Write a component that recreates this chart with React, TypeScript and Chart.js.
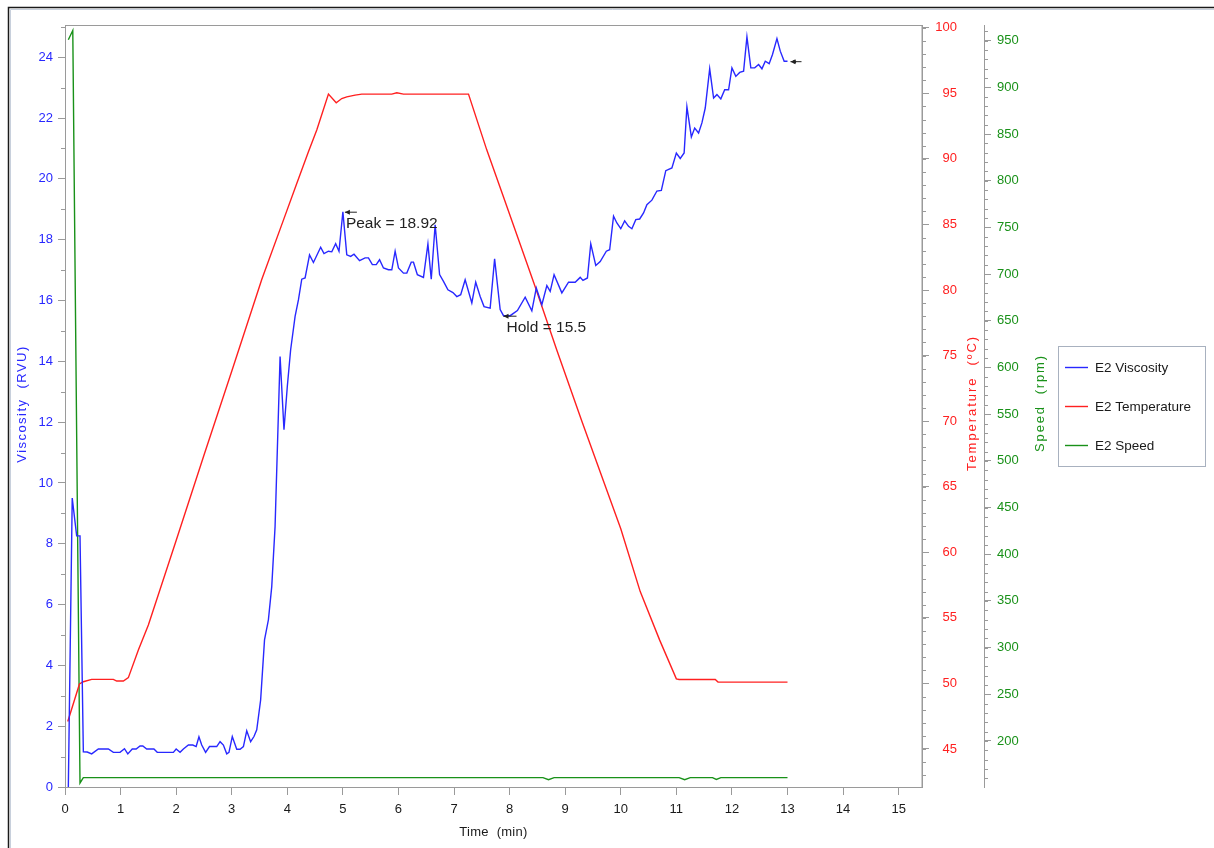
import React, { useEffect, useRef } from 'react';
import { Chart, registerables } from 'chart.js';

Chart.register(...registerables);

// ---------------- data ----------------
const seriesNames = ['E2 Viscosity', 'E2 Temperature', 'E2 Speed'];

const viscTime = [
  0.06, 0.13, 0.21, 0.27, 0.33, 0.40, 0.48, 0.60, 0.78, 0.87, 0.99, 1.07, 1.13, 1.21, 1.28, 1.35, 1.40, 1.47,
  1.60, 1.66, 1.95, 2.00, 2.07, 2.13, 2.22, 2.30, 2.36, 2.41, 2.46, 2.53, 2.60, 2.73, 2.79, 2.85, 2.91, 2.95,
  3.01, 3.09, 3.15, 3.21, 3.27, 3.34, 3.40, 3.45, 3.52, 3.59, 3.66, 3.72, 3.78, 3.87, 3.94, 4.00, 4.06, 4.14,
  4.20, 4.26, 4.32, 4.40, 4.47, 4.60, 4.66, 4.74, 4.80, 4.87, 4.93, 5.00, 5.07, 5.14, 5.20, 5.30, 5.40, 5.46,
  5.53, 5.60, 5.66, 5.73, 5.82, 5.88, 5.94, 6.00, 6.09, 6.15, 6.23, 6.27, 6.34, 6.45, 6.53, 6.59, 6.66, 6.74,
  6.81, 6.89, 6.98, 7.05, 7.12, 7.20, 7.32, 7.39, 7.47, 7.54, 7.65, 7.73, 7.83, 7.89, 8.01, 8.14, 8.28, 8.40,
  8.48, 8.58, 8.67, 8.73, 8.80, 8.94, 9.06, 9.18, 9.27, 9.32, 9.40, 9.46, 9.55, 9.63, 9.74, 9.80, 9.87, 9.93,
  10.00, 10.07, 10.14, 10.20, 10.27, 10.34, 10.41, 10.47, 10.56, 10.65, 10.73, 10.81, 10.92, 11.00, 11.07,
  11.14, 11.19, 11.27, 11.33, 11.40, 11.46, 11.52, 11.60, 11.67, 11.73, 11.80, 11.87, 11.94, 12.00, 12.07,
  12.14, 12.21, 12.27, 12.34, 12.41, 12.48, 12.54, 12.60, 12.67, 12.73, 12.81, 12.87, 12.94, 13.00,
];
const viscValues = [
  0, 9.5, 8.26, 8.26, 1.16, 1.15, 1.09, 1.25, 1.25, 1.14, 1.14, 1.26, 1.09, 1.25, 1.25, 1.35, 1.35, 1.25,
  1.25, 1.14, 1.14, 1.25, 1.14, 1.25, 1.38, 1.38, 1.33, 1.65, 1.38, 1.14, 1.33, 1.33, 1.49, 1.38, 1.09, 1.14,
  1.66, 1.24, 1.24, 1.33, 1.85, 1.49, 1.66, 1.88, 2.86, 4.84, 5.5, 6.59, 8.57, 14.16, 11.75, 13.17, 14.38, 15.48,
  16.02, 16.7, 16.74, 17.5, 17.25, 17.75, 17.54, 17.62, 17.6, 17.87, 17.62, 18.92, 17.5, 17.45, 17.52, 17.31, 17.4, 17.4,
  17.18, 17.18, 17.34, 17.07, 17.01, 17.01, 17.62, 17.07, 16.9, 16.9, 17.26, 17.26, 16.85, 16.76, 17.86, 16.7, 18.49, 16.85,
  16.63, 16.35, 16.26, 16.13, 16.19, 16.68, 15.92, 16.6, 16.13, 15.8, 15.75, 17.37, 15.7, 15.5, 15.5, 15.67, 16.11, 15.66,
  16.41, 15.86, 16.49, 16.3, 16.85, 16.25, 16.6, 16.6, 16.76, 16.66, 16.74, 17.86, 17.15, 17.28, 17.62, 17.67, 18.77, 18.55,
  18.36, 18.62, 18.44, 18.36, 18.66, 18.68, 18.88, 19.15, 19.3, 19.6, 19.62, 20.27, 20.36, 20.85, 20.67,
  20.85, 22.37, 21.38, 21.67, 21.51, 21.84, 22.33, 23.62, 22.66, 22.77, 22.63, 22.93, 22.93, 23.65, 23.37,
  23.5, 23.54, 24.67, 23.65, 23.65, 23.76, 23.62, 23.87, 23.79, 24.09, 24.61, 24.2, 23.87, 23.87,
];

const tempTime = [
  0.05, 0.26, 0.33, 0.48, 0.87, 0.93, 1.05, 1.14, 1.32, 1.50, 2.00, 2.50, 3.00, 3.54, 3.93, 4.17, 4.38, 4.53,
  4.74, 4.88, 4.98, 5.07, 5.22, 5.34, 5.88, 5.97, 6.09, 7.26, 7.59, 7.89, 8.46, 8.85, 9.30, 9.70, 10.00, 10.35,
  10.70, 11.00, 11.05, 11.70, 11.75, 13.00,
];
const tempValues = [
  47.1, 49.96, 50.13, 50.31, 50.31, 50.18, 50.18, 50.44, 52.55, 54.45, 60.9, 67.4, 73.8, 80.8, 85.33, 88.13, 90.54, 92.2,
  94.94, 94.28, 94.6, 94.73, 94.86, 94.94, 94.94, 95.04, 94.94, 94.94, 90.67, 87.1, 80.25, 75.4, 70.0, 65.3, 61.8, 57.0,
  53.3, 50.35, 50.3, 50.3, 50.1, 50.1,
];

const speedTime = [0.06, 0.14, 0.27, 0.33, 8.6, 8.7, 8.8, 11.05, 11.15, 11.25, 11.65, 11.72, 11.8, 13.0];
const speedValues = [951, 961, 155, 160.7, 160.7, 158.5, 160.7, 160.7, 158.5, 160.7, 160.7, 158.8, 160.7, 160.7];

const xTicks = [0, 1, 2, 3, 4, 5, 6, 7, 8, 9, 10, 11, 12, 13, 14, 15];
const viscTicks = [0, 2, 4, 6, 8, 10, 12, 14, 16, 18, 20, 22, 24];
const tempTicks = [45, 50, 55, 60, 65, 70, 75, 80, 85, 90, 95, 100];
const speedTicks = [200, 250, 300, 350, 400, 450, 500, 550, 600, 650, 700, 750, 800, 850, 900, 950];

const peakPoint = { t: 5.0, v: 18.92, label: 'Peak = 18.92' };
const holdPoint = { t: 7.89, v: 15.5, label: 'Hold = 15.5' };
const finalPoint = { t: 13.0, v: 23.87 };

const axisTitles = { x: 'Time  (min)', visc: 'Viscosity  (RVU)', temp: 'Temperature  (ºC)', speed: 'Speed  (rpm)' };

// ---------------- style ----------------
const BLUE = 'rgb(40,40,255)';
const RED = 'rgb(255,32,32)';
const GREEN = 'rgb(25,145,25)';
const FONT = "'Liberation Sans', Arial, sans-serif";
const AXIS_GREY = '#9a9a9a';

const toXY = (ts: number[], vs: number[]) => ts.map((t, i) => ({ x: t, y: vs[i] }));

function drawText(ctx: CanvasRenderingContext2D, text: string, x: number, y: number, rot: number, size: number, color: string, target?: number) {
  ctx.save();
  ctx.font = `${size}px ${FONT}`;
  ctx.fillStyle = color;
  ctx.textAlign = 'center';
  ctx.textBaseline = 'middle';
  if (target) {
    const w = ctx.measureText(text).width;
    const ls = (target - w) / Math.max(1, text.length - 1);
    (ctx as any).letterSpacing = `${ls.toFixed(2)}px`;
  }
  ctx.translate(x, y);
  ctx.rotate(rot);
  ctx.fillText(text, 0, 0);
  ctx.restore();
}

function drawArrow(ctx: CanvasRenderingContext2D, x: number, y: number, len: number) {
  ctx.save();
  ctx.strokeStyle = '#222';
  ctx.fillStyle = '#222';
  ctx.lineWidth = 1;
  ctx.beginPath();
  ctx.moveTo(x, y + 0.5);
  ctx.lineTo(x + len, y + 0.5);
  ctx.stroke();
  ctx.beginPath();
  ctx.moveTo(x, y + 0.5);
  ctx.lineTo(x + 5, y - 2);
  ctx.lineTo(x + 5, y + 3);
  ctx.closePath();
  ctx.fill();
  ctx.restore();
}

const decor = {
  id: 'decor',
  beforeDraw(chart: any) {
    const { ctx, width, height } = chart;
    ctx.save();
    ctx.fillStyle = '#fff';
    ctx.fillRect(0, 0, width, height);
    ctx.strokeStyle = '#1a1a1a';
    ctx.lineWidth = 1.5;
    ctx.beginPath();
    ctx.moveTo(8.5, height);
    ctx.lineTo(8.5, 7.5);
    ctx.lineTo(width, 7.5);
    ctx.stroke();
    ctx.strokeStyle = '#c8d0dc';
    ctx.lineWidth = 1;
    ctx.beginPath();
    ctx.moveTo(10.5, height);
    ctx.lineTo(10.5, 9.5);
    ctx.lineTo(width, 9.5);
    ctx.stroke();
    ctx.restore();
  },
  afterDraw(chart: any) {
    const { ctx, chartArea: ca, scales } = chart;
    const { x, y, yT, yS } = scales;
    ctx.save();
    // plot frame
    ctx.strokeStyle = AXIS_GREY;
    ctx.lineWidth = 1;
    ctx.strokeRect(Math.round(ca.left) + 0.5, Math.round(ca.top) + 0.5, Math.round(ca.right - ca.left) - 0.5, Math.round(ca.bottom - ca.top));
    // minor ticks
    const minor = (scale: any, from: number, to: number, step: number, edge: number, dir: number) => {
      ctx.beginPath();
      for (let v = from; v <= to + 1e-9; v += step) {
        const p = Math.round(scale.getPixelForValue(v)) + 0.5;
        ctx.moveTo(edge, p);
        ctx.lineTo(edge + dir * 4, p);
      }
      ctx.stroke();
    };
    minor(y, 1, 25, 2, y.right, -1);
    minor(yT, 43, 100, 1, yT.left, 1);
    minor(yS, 160, 960, 10, yS.left, 1);
    ctx.restore();

    // axis titles
    const midY = (ca.top + ca.bottom) / 2;
    drawText(ctx, axisTitles.visc, 22, midY - 2, -Math.PI / 2, 13, BLUE, 116);
    drawText(ctx, axisTitles.temp, 972, midY - 3, -Math.PI / 2, 13, RED, 134);
    drawText(ctx, axisTitles.speed, 1040, midY - 3, -Math.PI / 2, 13, GREEN, 96);
    drawText(ctx, axisTitles.x, (ca.left + ca.right) / 2, 832, 0, 13, '#1a1a1a', 68);

    // annotations
    const px = x.getPixelForValue(peakPoint.t);
    const py = y.getPixelForValue(peakPoint.v);
    drawArrow(ctx, px + 2, py, 12);
    const hx = x.getPixelForValue(holdPoint.t);
    const hy = y.getPixelForValue(holdPoint.v);
    drawArrow(ctx, hx, hy, 13);
    const fx = x.getPixelForValue(finalPoint.t);
    const fy = y.getPixelForValue(finalPoint.v);
    drawArrow(ctx, fx + 3, fy, 11);
    ctx.save();
    ctx.fillStyle = '#222';
    ctx.beginPath();
    ctx.arc(fx + 7, fy + 0.5, 1.8, 0, Math.PI * 2);
    ctx.fill();
    ctx.font = `15.5px ${FONT}`;
    ctx.textAlign = 'left';
    ctx.textBaseline = 'top';
    ctx.fillText(peakPoint.label, px + 3, py + 4);
    ctx.fillText(holdPoint.label, hx + 3, hy + 4);
    ctx.restore();

    // legend
    ctx.save();
    const lx = 1058, ly = 346, lw = 147, lh = 120;
    ctx.strokeStyle = '#a8b1bf';
    ctx.lineWidth = 1;
    ctx.strokeRect(lx + 0.5, ly + 0.5, lw, lh);
    const colors = [BLUE, RED, GREEN];
    const rows = [367, 406, 445];
    ctx.font = `13.5px ${FONT}`;
    ctx.textBaseline = 'middle';
    ctx.textAlign = 'left';
    seriesNames.forEach((name, i) => {
      ctx.strokeStyle = colors[i];
      ctx.lineWidth = 1.4;
      ctx.beginPath();
      ctx.moveTo(1065, rows[i] + 0.5);
      ctx.lineTo(1088, rows[i] + 0.5);
      ctx.stroke();
      ctx.fillStyle = '#1a1a1a';
      ctx.fillText(name, 1095, rows[i] + 1);
    });
    ctx.restore();
  },
};

const setTicks = (vals: number[]) => (scale: any) => {
  scale.ticks = vals.map((v) => ({ value: v }));
};

export default function App() {
  const ref = useRef<HTMLCanvasElement>(null);
  useEffect(() => {
    if (!ref.current) return;
    Chart.defaults.font.family = FONT;
    const tickFont = { family: FONT, size: 13 };
    const gridOpts = (len: number) => ({ display: true, drawOnChartArea: false, drawTicks: true, tickLength: len, color: AXIS_GREY, lineWidth: 1 });
    const chart = new Chart(ref.current, {
      type: 'line',
      data: {
        datasets: [
          { label: seriesNames[0], data: toXY(viscTime, viscValues), borderColor: BLUE, backgroundColor: BLUE, borderWidth: 1.4, pointRadius: 0, yAxisID: 'y', xAxisID: 'x' },
          { label: seriesNames[1], data: toXY(tempTime, tempValues), borderColor: RED, backgroundColor: RED, borderWidth: 1.4, pointRadius: 0, yAxisID: 'yT', xAxisID: 'x' },
          { label: seriesNames[2], data: toXY(speedTime, speedValues), borderColor: GREEN, backgroundColor: GREEN, borderWidth: 1.4, pointRadius: 0, yAxisID: 'yS', xAxisID: 'x' },
        ],
      },
      options: {
        animation: false,
        responsive: false,
        devicePixelRatio: 1,
        layout: { padding: { left: 0, top: 25, right: 160, bottom: 0 } },
        plugins: { legend: { display: false }, tooltip: { enabled: false } },
        scales: {
          x: {
            type: 'linear', position: 'bottom', min: 0, max: 15.42,
            afterBuildTicks: setTicks(xTicks),
            afterFit: (s: any) => { s.height = 61; },
            grid: gridOpts(8),
            border: { display: true, color: AXIS_GREY },
            ticks: { font: tickFont, color: '#1a1a1a', padding: 7, autoSkip: false, maxRotation: 0 },
          },
          y: {
            type: 'linear', position: 'left', min: 0, max: 25.06,
            afterBuildTicks: setTicks(viscTicks),
            afterFit: (s: any) => { s.width = 65; },
            grid: gridOpts(7),
            border: { display: true, color: AXIS_GREY },
            ticks: { font: tickFont, color: BLUE, padding: 5, autoSkip: false },
          },
          yT: {
            type: 'linear', position: 'right', weight: 0, min: 42.1, max: 100.21,
            afterBuildTicks: setTicks(tempTicks),
            afterFit: (s: any) => { s.width = 35; },
            grid: gridOpts(7),
            border: { display: true, color: AXIS_GREY },
            ticks: { font: tickFont, color: RED, padding: 5, autoSkip: false, crossAlign: 'far' },
          },
          gap: {
            type: 'linear', position: 'right', weight: 1, display: true,
            afterFit: (s: any) => { s.width = 27; },
            grid: { display: false },
            border: { display: false },
            ticks: { display: false },
          },
          yS: {
            type: 'linear', position: 'right', weight: 2, min: 150.7, max: 966.8,
            afterBuildTicks: setTicks(speedTicks),
            afterFit: (s: any) => { s.width = 70; },
            grid: gridOpts(7),
            border: { display: true, color: AXIS_GREY },
            ticks: { font: tickFont, color: GREEN, padding: 6, autoSkip: false },
          },
        },
      } as any,
      plugins: [decor],
    });
    return () => chart.destroy();
  }, []);
  return (
    <div style={{ position: 'fixed', left: 0, top: 0, width: 1214, height: 848, background: '#fff' }}>
      <canvas ref={ref} width={1214} height={848} style={{ display: 'block', width: 1214, height: 848 }} />
    </div>
  );
}
